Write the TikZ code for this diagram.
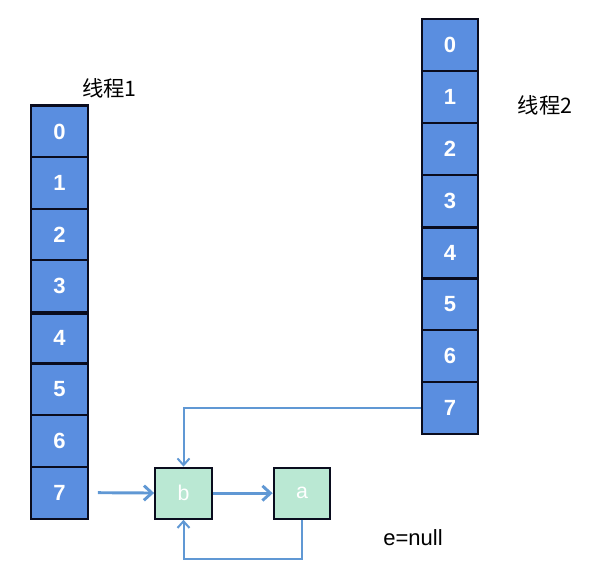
\documentclass[tikz,border=0pt]{standalone}
\usepackage{fontspec}
\setmainfont{Liberation Sans}
\newfontfamily\cjk{Noto Sans CJK SC}
\usetikzlibrary{arrows.meta,positioning}
\definecolor{cellblue}{RGB}{90,142,224}
\definecolor{entrygreen}{RGB}{186,232,211}
\definecolor{linkblue}{RGB}{96,152,212}
\definecolor{edge}{RGB}{10,12,30}
\tikzset{
  cell/.style={draw=edge, line width=1.6pt, fill=cellblue, minimum width=42.5pt,
    minimum height=38.9pt, inner sep=0pt, text=white, font=\fontsize{16.5}{16.5}\selectfont\bfseries},
  entry/.style={draw=edge, line width=1.6pt, fill=entrygreen, minimum width=42.5pt,
    minimum height=38.3pt, inner sep=0pt, text=white, font=\fontsize{16}{16}\selectfont},
  link/.style={draw=linkblue, line width=2.2pt, -{Straight Barb[length=6pt,width=11pt]}},
  thin link/.style={draw=linkblue, line width=1.5pt, -{Straight Barb[length=5pt,width=9pt]}}
}
\begin{document}
\begin{tikzpicture}[x=0.75pt,y=-0.75pt]
  \useasboundingbox (0,0) rectangle (590,581);

  % table of thread 1
  \foreach \i in {0,...,7}
    \node [cell] (l\i) at (59.5,{105.7+51.6*(\i+0.5)}) {\i};
  \draw [draw=edge, line width=2.3pt] (l3.south west) -- (l3.south east);
  \node [font=\cjk\fontsize{16}{16}\selectfont] (t1) at (109.5,88) {线程1};

  % table of thread 2
  \foreach \i in {0,...,7}
    \node [cell] (r\i) at (450,{19+51.9*(\i+0.5)}) {\i};
  \draw [draw=edge, line width=2.3pt] (r3.south west) -- (r3.south east);
  \node [font=\cjk\fontsize{16}{16}\selectfont] (t2) at (545,105) {线程2};

  % the entries
  \node [entry] (b) at (183.5,493.2) {b};
  \node [entry] (a) at (302,493.2) {a};
  \node [font=\fontsize{16.5}{16.5}\selectfont] (enull) at (413,538) {e=null};

  \coordinate (s1) at ([xshift=6.8pt]l7.east);
  \draw [link] (s1) -- (b);
  \draw [link] (b) -- (a);
  \draw [thin link] (r7.west) -| (b.north);
  \coordinate (loop) at ([yshift=-29.5pt]a.south);
  \draw [thin link] (a.south) -- (loop) -| (b.south);
\end{tikzpicture}
\end{document}
